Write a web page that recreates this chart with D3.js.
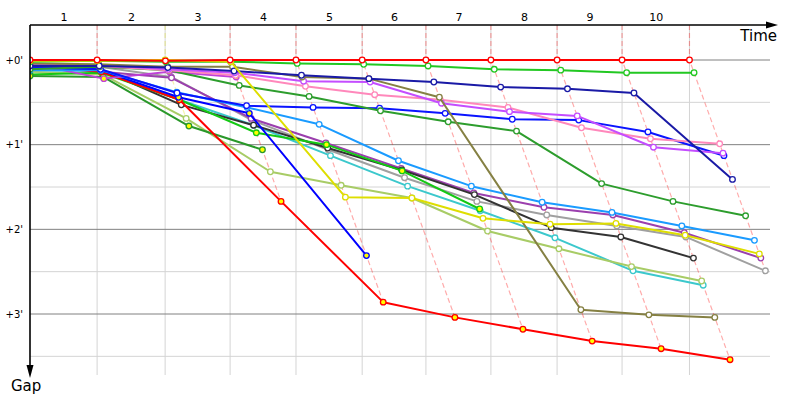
<!DOCTYPE html>
<html><head><meta charset="utf-8">
<script src="https://cdn.jsdelivr.net/npm/d3@7"></script>
<style>body{margin:0;background:#fff}svg{display:block}text{font-family:"DejaVu Sans",sans-serif;fill:#000}</style>
</head><body><svg id="c" width="800" height="400"></svg>
<script>
// ---- data (times and gaps in minutes) ----
const lapLabels = ["1","2","3","4","5","6","7","8","9","10"];
const leaderTimes = [0, 2.20, 4.43, 6.56, 8.72, 10.89, 12.98, 15.11, 17.28, 19.41, 21.62];
const gapTicks = [0, 1, 2, 3];
const gapTickLabels = ["+0'", "+1'", "+2'", "+3'"];
const halfGridGaps = [0.5, 1.5, 2.5, 3.5];

const gapsRed        = [0,0,0.01,0,0,0,0,0,0,0,0];
const gapsYellow     = [0.01,0.01,0,0.02,1.62,1.63,1.87,1.94,1.93,2.07,2.29];
const gapsGreen      = [0.02,0.01,0.02,0.02,0.04,0.05,0.07,0.11,0.12,0.15,0.15];
const gapsNavy       = [0.07,0.07,0.09,0.13,0.18,0.22,0.26,0.32,0.34,0.39,1.41];
const gapsOlive      = [0.04,0.05,0.08,0.08,0.20,0.22,0.44,2.95,3.01,3.04];
const gapsViolet     = [0.05,0.06,0.11,0.15,0.25,0.26,0.51,0.61,0.66,1.03,1.10];
const gapsPink       = [0.06,0.07,0.12,0.18,0.31,0.41,0.47,0.56,0.80,0.93,0.99];
const gapsForest     = [0.11,0.08,0.12,0.30,0.43,0.60,0.73,0.84,1.46,1.67,1.84];
const gapsBlue       = [0.09,0.11,0.39,0.54,0.56,0.57,0.63,0.70,0.71,0.85,1.13];
const gapsLightBlue  = [0.12,0.12,0.38,0.56,0.76,1.19,1.49,1.68,1.80,1.96,2.13];
const gapsBlue2      = [0.09,0.12,0.44,0.63,2.31];
const gapsRed2       = [0.07,0.14,0.47,1.67,2.86,3.04,3.18,3.32,3.41,3.54];
const gapsDarkGreen  = [0.19,0.20,0.78,1.06];
const gapsLime       = [0.17,0.15,0.47,0.86,1.00,1.31,1.76];
const gapsBlack      = [0.08,0.11,0.53,0.77,1.04,1.30,1.59,1.98,2.09,2.34];
const gapsPurple     = [0.05,0.14,0.21,0.69,0.98,1.28,1.57,1.74,1.83,2.04,2.34];
const gapsGray       = [0.07,0.08,0.20,0.71,1.06,1.39,1.67,1.83,1.96,2.09,2.49];
const gapsLightGreen = [0.14,0.17,0.69,1.32,1.48,1.63,2.02,2.23,2.44,2.61];
const gapsCyan       = [0.12,0.13,0.47,0.77,1.13,1.49,1.78,2.10,2.49,2.66];
const gapsMagenta    = [0.04,0.22,0.14,0.20];

// drawing order: bottom first, leader last
const series = [
  {gaps: gapsCyan,       color: "#3cc8cc", fill: "#fff"},
  {gaps: gapsLightGreen, color: "#a8cc66", fill: "#fff"},
  {gaps: gapsGray,       color: "#a0a0a0", fill: "#fff"},
  {gaps: gapsPurple,     color: "#9b3fae", fill: "#fff"},
  {gaps: gapsBlack,      color: "#333333", fill: "#fff"},
  {gaps: gapsLime,       color: "#14c814", fill: "#ffff00"},
  {gaps: gapsDarkGreen,  color: "#2a982a", fill: "#ffff00"},
  {gaps: gapsRed2,       color: "#ff0000", fill: "#ffff00"},
  {gaps: gapsBlue2,      color: "#0000ff", fill: "#ffff00"},
  {gaps: gapsMagenta,    color: "#c040d8", fill: "#ffff00"},
  {gaps: gapsLightBlue,  color: "#1a9bff", fill: "#fff"},
  {gaps: gapsBlue,       color: "#0a14ff", fill: "#fff"},
  {gaps: gapsForest,     color: "#2d9d2d", fill: "#fff"},
  {gaps: gapsPink,       color: "#ff88bb", fill: "#fff"},
  {gaps: gapsViolet,     color: "#c44dff", fill: "#fff"},
  {gaps: gapsOlive,      color: "#858043", fill: "#fff"},
  {gaps: gapsNavy,       color: "#1a1aa6", fill: "#fff"},
  {gaps: gapsGreen,      color: "#22c822", fill: "#fff"},
  {gaps: gapsYellow,     color: "#dede00", fill: "#fff"},
  {gaps: gapsRed,        color: "#ff0000", fill: "#fff"}
];

// ---- chart ----
const svg = d3.select("#c");
const x = d3.scaleLinear().domain([0, 24.26]).range([30, 770]);
const y = d3.scaleLinear().domain([0, 3]).range([60, 314]);
const yTop = 25, yBottom = 375, xLeft = 30, xRight = 770;

// grid
svg.append("g").selectAll("line").data(halfGridGaps).join("line")
  .attr("x1", xLeft).attr("x2", xRight).attr("y1", d => y(d)).attr("y2", d => y(d))
  .attr("stroke", "#d4d4d4");
svg.append("g").selectAll("line").data(leaderTimes.slice(1)).join("line")
  .attr("x1", d => x(d)).attr("x2", d => x(d)).attr("y1", yTop).attr("y2", yBottom)
  .attr("stroke", "#d4d4d4");
svg.append("g").selectAll("line").data(gapTicks).join("line")
  .attr("x1", xLeft).attr("x2", xRight).attr("y1", d => y(d)).attr("y2", d => y(d))
  .attr("stroke", "#808080");

// points
function pts(s) {
  return s.gaps.map((g, k) => ({x: x(k === 0 ? 0 : leaderTimes[k] + g), y: y(g), k}));
}

svg.append("defs").append("clipPath").attr("id", "plot")
  .append("rect").attr("x", xLeft).attr("y", yTop).attr("width", 800 - xLeft).attr("height", 400 - yTop);

// lap dashed lines
const lapG = svg.append("g");
for (let k = 1; k < leaderTimes.length; k++) {
  const members = series.filter(s => s.gaps.length > k);
  let lead = members[0];
  members.forEach(s => { if (s.gaps[k] < lead.gaps[k]) lead = s; });
  const minG = lead.gaps[k];
  const maxG = d3.max(members, s => s.gaps[k]);
  const c = d3.color(lead.color); c.opacity = 0.33;
  lapG.append("path")
    .attr("d", `M${x(leaderTimes[k] + minG)},${yTop}L${x(leaderTimes[k] + minG)},${y(minG)}L${x(leaderTimes[k] + maxG)},${y(maxG)}`)
    .attr("fill", "none").attr("stroke", c.toString()).attr("stroke-width", 1.2)
    .attr("stroke-dasharray", "5,3");
}

// series
const sg = svg.append("g").attr("clip-path", "url(#plot)");
const line = d3.line().x(d => d.x).y(d => d.y);
series.forEach(s => {
  const p = pts(s);
  const g = sg.append("g");
  g.append("path").attr("d", line(p)).attr("fill", "none")
    .attr("stroke", s.color).attr("stroke-width", 2).attr("stroke-linejoin", "round");
  g.selectAll("circle").data(p).join("circle")
    .attr("cx", d => d.x).attr("cy", d => d.y).attr("r", 2.8)
    .attr("fill", s.fill).attr("stroke", s.color).attr("stroke-width", 1.3);
});

// top axis (lap labels)
const mids = lapLabels.map((l, i) => (leaderTimes[i] + leaderTimes[i + 1]) / 2);
const topAxis = d3.axisTop(x).tickValues(mids).tickFormat((d, i) => lapLabels[i])
  .tickSize(0).tickPadding(4);
const ta = svg.append("g").attr("transform", `translate(0,${yTop})`).call(topAxis);
ta.select(".domain").remove();
ta.selectAll("text").attr("font-size", 11).style("font-family", '"DejaVu Sans",sans-serif');

// left axis (gap labels)
const leftAxis = d3.axisLeft(y).tickValues(gapTicks).tickFormat((d, i) => gapTickLabels[i])
  .tickSize(0).tickPadding(7);
const la = svg.append("g").attr("transform", `translate(${xLeft},0)`).call(leftAxis);
la.select(".domain").remove();
la.selectAll("text").attr("font-size", 10).style("font-family", '"DejaVu Sans",sans-serif');

// axis lines with arrows
svg.append("line").attr("x1", xLeft).attr("x2", 768).attr("y1", yTop).attr("y2", yTop)
  .attr("stroke", "#000").attr("stroke-width", 1.6);
svg.append("path").attr("d", `M766,${yTop - 3.5}L778,${yTop}L766,${yTop + 3.5}Z`).attr("fill", "#000");
svg.append("line").attr("x1", xLeft).attr("x2", xLeft).attr("y1", yTop).attr("y2", 367)
  .attr("stroke", "#000").attr("stroke-width", 1.6);
svg.append("path").attr("d", `M${xLeft - 3.5},365L${xLeft},378L${xLeft + 3.5},365Z`).attr("fill", "#000");

svg.append("text").attr("x", 777).attr("y", 41).attr("text-anchor", "end")
  .attr("font-size", 15).text("Time");
svg.append("text").attr("x", 11).attr("y", 391).attr("font-size", 15).text("Gap");
</script></body></html>
